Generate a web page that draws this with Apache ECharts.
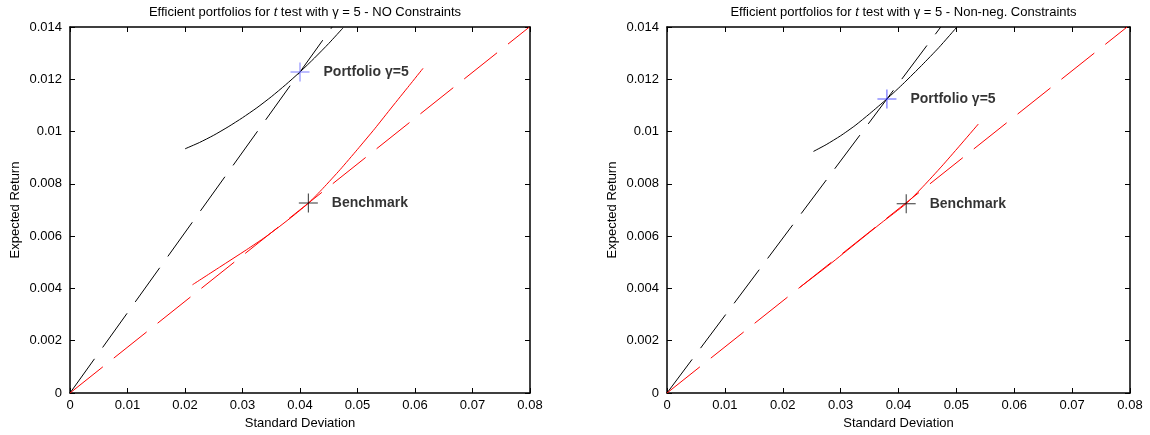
<!DOCTYPE html>
<html>
<head>
<meta charset="utf-8">
<title>Efficient portfolios</title>
<script src="https://cdn.jsdelivr.net/npm/echarts@6/dist/echarts.min.js"></script>
<style>
  html, body { margin: 0; padding: 0; background: #fff; }
  #chart { width: 1150px; height: 435px; }
</style>
</head>
<body>
<div id="chart"></div>
<script>
// tick labels
const sdTicks = ['0', '0.01', '0.02', '0.03', '0.04', '0.05', '0.06', '0.07', '0.08'];
const retTicks = ['0', '0.002', '0.004', '0.006', '0.008', '0.01', '0.012', '0.014'];

// left panel: NO constraints
const leftFrontierSd = [0.0200, 0.0225, 0.0250, 0.0275, 0.0300, 0.0325, 0.0350, 0.0375, 0.0400, 0.0425, 0.0450, 0.0475];
const leftFrontierRet = [0.00934, 0.00958, 0.00986, 0.01018, 0.01053, 0.01091, 0.01133, 0.01179, 0.01228, 0.01281, 0.01337, 0.01397];
const leftPortLineSd = [0, 0.0456];
const leftPortLineRet = [0, 0.014];
const leftBenchCurveSd = [0.0213, 0.0260, 0.0307, 0.0340, 0.0365, 0.0390, 0.0415, 0.0440, 0.0470, 0.0500, 0.0530, 0.0560, 0.0590, 0.0614];
const leftBenchCurveRet = [0.00414, 0.00481, 0.00548, 0.00597, 0.00638, 0.00681, 0.00727, 0.00783, 0.00855, 0.00932, 0.01011, 0.01094, 0.01176, 0.01242];
const leftBenchLineSd = [0, 0.0799];
const leftBenchLineRet = [0, 0.014];
const leftPortfolio = [0.0400, 0.01228];
const leftBenchmark = [0.04145, 0.00727];

// right panel: non-negativity constraints
const rightFrontierSd = [0.0253, 0.0275, 0.0300, 0.0325, 0.0350, 0.0380, 0.0410, 0.0440, 0.0470, 0.0501];
const rightFrontierRet = [0.00924, 0.00950, 0.00984, 0.01023, 0.01068, 0.01125, 0.01187, 0.01253, 0.01322, 0.01400];
const rightPortLineSd = [0, 0.0473];
const rightPortLineRet = [0, 0.014];
const rightBenchCurveSd = [0.0230, 0.0280, 0.0330, 0.0370, 0.0413, 0.0443, 0.0475, 0.0505, 0.0538];
const rightBenchCurveRet = [0.00405, 0.00490, 0.00579, 0.00650, 0.00724, 0.00791, 0.00868, 0.00944, 0.01029];
const rightBenchLineSd = [0, 0.0795];
const rightBenchLineRet = [0, 0.014];
const rightPortfolio = [0.0380, 0.01125];
const rightBenchmark = [0.04133, 0.00724];

const titles = [
  'Efficient portfolios for {i|t} test with γ = 5 - NO Constraints',
  'Efficient portfolios for {i|t} test with γ = 5 - Non-neg. Constraints'
];

const FONT = 'Liberation Sans, Arial, sans-serif';
const zip = (xs, ys) => xs.map((x, i) => [x, ys[i]]);
const crossPath = 'path://M9,0H10V19H9ZM0,9H19V10H0Z';

const grids = [
  { left: 70, top: 27, width: 460, height: 366 },
  { left: 667, top: 27, width: 463, height: 366 }
];

const xAxes = [];
const yAxes = [];
grids.forEach((g, gi) => {
  const common = {
    gridIndex: gi,
    type: 'value',
    axisLine: { show: true, onZero: false, lineStyle: { color: '#000', width: 1.5 } },
    axisTick: { show: true, inside: true, length: 5, lineStyle: { color: '#000', width: 1 } },
    splitLine: { show: false }
  };
  xAxes.push({
    ...common,
    position: 'bottom',
    min: 0, max: 0.08, interval: 0.01,
    name: 'Standard Deviation',
    nameLocation: 'middle',
    nameGap: 23,
    nameTextStyle: { color: '#000', fontSize: 13, fontFamily: FONT },
    axisLabel: {
      color: '#000', fontSize: 13, fontFamily: FONT, margin: 6,
      formatter: (v) => sdTicks[Math.round(v / 0.01)]
    }
  });
  xAxes.push({
    ...common,
    position: 'top',
    min: 0, max: 0.08, interval: 0.01,
    axisLabel: { show: false }
  });
  yAxes.push({
    ...common,
    position: 'left',
    min: 0, max: 0.014, interval: 0.002,
    name: 'Expected Return',
    nameLocation: 'middle',
    nameGap: 48,
    nameTextStyle: { color: '#000', fontSize: 13, fontFamily: FONT },
    axisLabel: {
      color: '#000', fontSize: 13, fontFamily: FONT, margin: 8,
      formatter: (v) => retTicks[Math.round(v / 0.002)]
    }
  });
  yAxes.push({
    ...common,
    position: 'right',
    min: 0, max: 0.014, interval: 0.002,
    axisLabel: { show: false }
  });
});

function panelSeries(gi, p) {
  const axes = { xAxisIndex: gi * 2, yAxisIndex: gi * 2 };
  const line = (data, color, dashed) => ({
    type: 'line', ...axes, data, showSymbol: false, symbol: 'none',
    smooth: dashed ? false : 0.2,
    lineStyle: { color, width: 1, type: dashed ? [42, 14] : 'solid' },
    z: 2
  });
  const mark = (name, pt, color) => ({
    type: 'scatter', ...axes,
    data: [{ name, value: pt }],
    symbol: crossPath, symbolSize: 19,
    itemStyle: { color },
    label: {
      show: true, position: 'right', distance: 14, formatter: '{b}',
      color: '#000', fontSize: 14, fontWeight: 'bold', fontFamily: FONT
    },
    z: 4
  });
  return [
    line(zip(p.frontierSd, p.frontierRet), '#000', false),
    line(zip(p.portLineSd, p.portLineRet), '#000', true),
    line(zip(p.benchCurveSd, p.benchCurveRet), '#ff0000', false),
    line(zip(p.benchLineSd, p.benchLineRet), '#ff0000', true),
    mark('Portfolio γ=5', p.portfolio, p.portColor),
    mark('Benchmark', p.benchmark, '#000')
  ];
}

const series = [
  ...panelSeries(0, {
    frontierSd: leftFrontierSd, frontierRet: leftFrontierRet,
    portLineSd: leftPortLineSd, portLineRet: leftPortLineRet,
    benchCurveSd: leftBenchCurveSd, benchCurveRet: leftBenchCurveRet,
    benchLineSd: leftBenchLineSd, benchLineRet: leftBenchLineRet,
    portfolio: leftPortfolio, benchmark: leftBenchmark, portColor: '#5a5aff'
  }),
  ...panelSeries(1, {
    frontierSd: rightFrontierSd, frontierRet: rightFrontierRet,
    portLineSd: rightPortLineSd, portLineRet: rightPortLineRet,
    benchCurveSd: rightBenchCurveSd, benchCurveRet: rightBenchCurveRet,
    benchLineSd: rightBenchLineSd, benchLineRet: rightBenchLineRet,
    portfolio: rightPortfolio, benchmark: rightBenchmark, portColor: '#2a2aff'
  })
];

const chart = echarts.init(document.getElementById('chart'), null, { renderer: 'canvas' });
chart.setOption({
  animation: false,
  backgroundColor: '#fff',
  title: titles.map((t, i) => ({
    text: t,
    left: grids[i].left + grids[i].width / 2,
    top: 1,
    textAlign: 'center',
    textStyle: {
      color: '#000', fontSize: 13, fontWeight: 'normal', fontFamily: FONT,
      rich: { i: { fontStyle: 'italic', fontSize: 13, fontFamily: FONT, color: '#000' } }
    }
  })),
  grid: grids,
  xAxis: xAxes,
  yAxis: yAxes,
  series
});
</script>
</body>
</html>
